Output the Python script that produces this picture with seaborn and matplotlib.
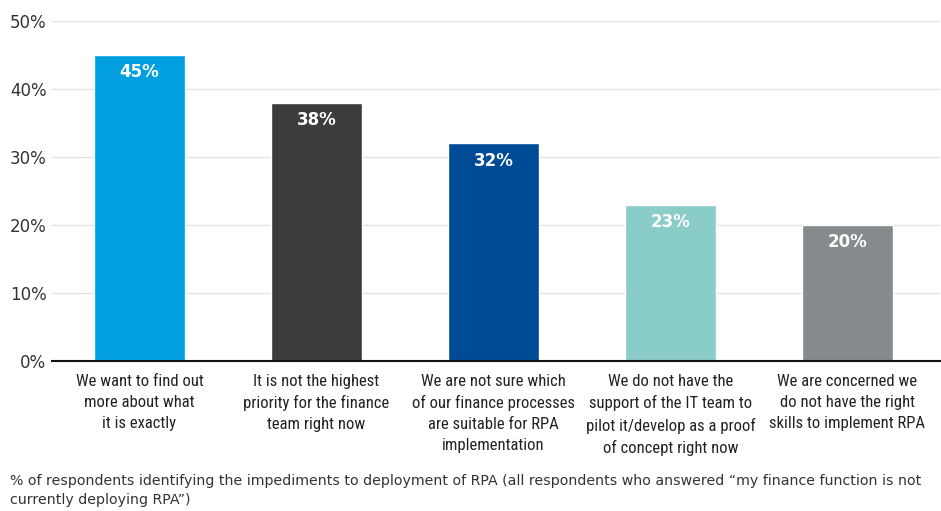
import matplotlib
matplotlib.use("Agg")
import matplotlib.pyplot as plt
from matplotlib import font_manager
import seaborn as sns
import pandas as pd

categories = [
    "We want to find out\nmore about what\nit is exactly",
    "It is not the highest\npriority for the finance\nteam right now",
    "We are not sure which\nof our finance processes\nare suitable for RPA\nimplementation",
    "We do not have the\nsupport of the IT team to\npilot it/develop as a proof\nof concept right now",
    "We are concerned we\ndo not have the right\nskills to implement RPA",
]
values = [45, 38, 32, 23, 20]
colors = ["#00A0E0", "#3C3C3B", "#004B96", "#8ACCC8", "#858A8C"]
yticks = [0, 10, 20, 30, 40, 50]
footnote = ("% of respondents identifying the impediments to deployment of RPA (all respondents who answered \u201cmy finance function is not\n"
            "currently deploying RPA\u201d)")

sns.set_theme(style="white")
plt.rcParams["font.family"] = ["DejaVu Sans"]

names = {f.name for f in font_manager.fontManager.ttflist}
narrow = [n for n in ["Liberation Sans Narrow", "DejaVu Sans Condensed", "Roboto Condensed"] if n in names]
narrow_family = narrow + ["DejaVu Sans"]

df = pd.DataFrame({"cat": categories, "val": values})

fig = plt.figure(figsize=(9.41, 5.11), dpi=100)
ax = fig.add_axes([52/941, 1 - 361/511, 888/941, 340/511])
sns.barplot(data=df, x="cat", y="val", hue="cat", palette=colors, legend=False,
            width=0.514, ax=ax, saturation=1)
ax.set_xlim(-0.494, 4.523)
ax.set_ylim(0, 50)
ax.set_yticks(yticks)
ax.set_yticklabels([f"{t}%" for t in yticks], fontsize=12, color="#333333")
ax.set_xlabel("")
ax.set_ylabel("")
ax.grid(axis="y", color="#E3E3E3", linewidth=1)
ax.set_axisbelow(True)
for s in ["top", "right", "left"]:
    ax.spines[s].set_visible(False)
ax.spines["bottom"].set_color("#111111")
ax.spines["bottom"].set_linewidth(1.5)
ax.tick_params(axis="y", length=0, pad=4)
ax.tick_params(axis="x", length=0, pad=9)
ax.set_xticks(range(len(categories)))
ax.set_xticklabels(categories, fontsize=12, color="#222222", family=narrow_family,
                   fontstretch="condensed", linespacing=1.5, va="top")

for i, v in enumerate(values):
    ax.text(i, v - 1.2, f"{v}%", ha="center", va="top", color="white",
            fontsize=12, fontweight="bold")

fig.text(10/941, 1 - 474/511, footnote, fontsize=10.2, color="#333333",
         va="top", ha="left", linespacing=1.45)

fig.savefig("out.png", dpi=100)
